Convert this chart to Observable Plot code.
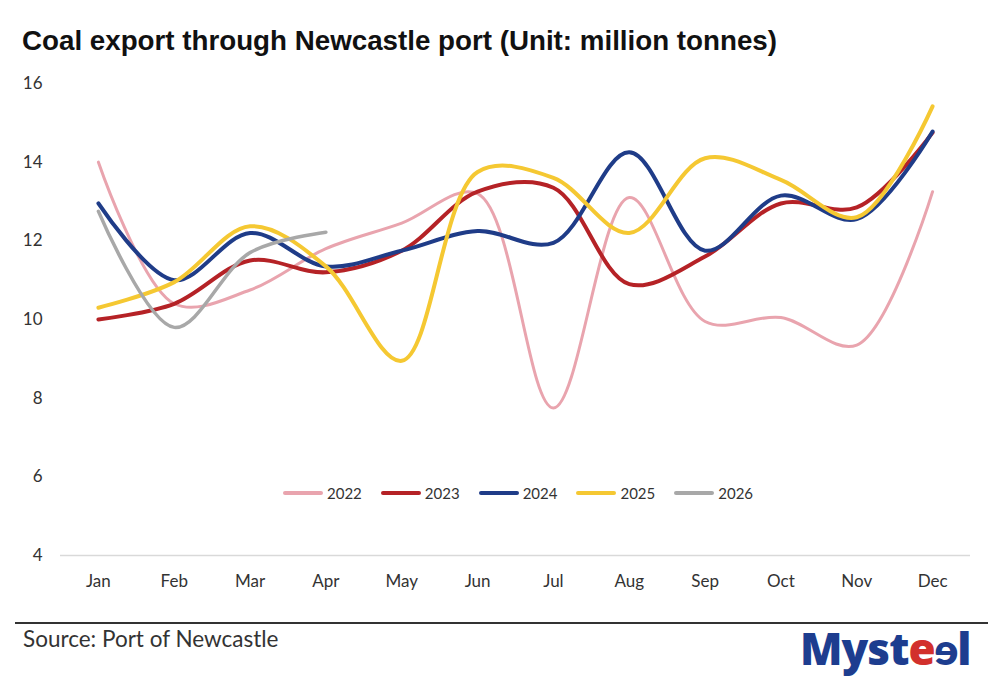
<!DOCTYPE html>
<html>
<head>
<meta charset="utf-8">
<script src="https://cdn.jsdelivr.net/npm/d3@7"></script>
<script src="https://cdn.jsdelivr.net/npm/@observablehq/plot@0.6"></script>
<style>
  html, body { margin: 0; padding: 0; background: #fff; }
  #wrap { position: relative; width: 1000px; height: 693px; overflow: hidden; font-family: Lato, "Open Sans", sans-serif; }
  #title { position: absolute; left: 0; top: 0; }
  #chart { position: absolute; left: 0; top: 65px; }
  #legend { position: absolute; left: 283px; top: 484px; display: flex; align-items: center; font-size: 15px; color: #333; }
  .item { display: flex; align-items: center; margin-right: 19px; }
  .sw { width: 40px; height: 4px; border-radius: 2px; margin-right: 4px; }
  #rule { position: absolute; left: 15px; top: 622px; width: 973px; height: 2px; background: #333; }
  #source { position: absolute; left: 23px; top: 625px; font-size: 22.5px; color: #333; }
  #logo { position: absolute; left: 800px; top: 618px; font-family: "Open Sans", Lato, sans-serif; font-weight: 800; font-size: 44px; letter-spacing: -1px; color: #1d3d8f; }
  #logo .r { color: #d2302c; }
</style>
</head>
<body>
<div id="wrap">
  <svg id="title" width="1000" height="65">
    <text x="22" y="50" textLength="755" lengthAdjust="spacingAndGlyphs"
      font-family="'Liberation Sans', Arial, sans-serif" font-weight="bold" font-size="27" fill="#111">Coal export through Newcastle port (Unit: million tonnes)</text>
  </svg>
  <div id="chart"></div>
  <div id="legend"></div>
  <div id="rule"></div>
  <div id="source">Source: Port of Newcastle</div>
  <div id="logo">Myst<span class="r">e</span>ɘl</div>
</div>
<script>
// Monthly coal exports through the port of Newcastle, million tonnes
const months = ["Jan", "Feb", "Mar", "Apr", "May", "Jun", "Jul", "Aug", "Sep", "Oct", "Nov", "Dec"];
const years = ["2022", "2023", "2024", "2025", "2026"];
const colors = ["#e9a4ae", "#b52226", "#1f3c88", "#f5c832", "#a8a8a8"];
const widths = [3, 4, 4, 4, 3.5];

const v2022 = [14.0, 10.4, 10.75, 11.8, 12.45, 13.2, 7.75, 13.1, 9.95, 10.05, 9.35, 13.25];
const v2023 = [10.0, 10.4, 11.5, 11.2, 11.75, 13.25, 13.35, 10.9, 11.6, 12.95, 12.85, 14.75];
const v2024 = [12.95, 11.0, 12.2, 11.35, 11.75, 12.25, 11.95, 14.25, 11.75, 13.15, 12.55, 14.78];
const v2025 = [10.3, 10.95, 12.37, 11.35, 8.95, 13.75, 13.6, 12.2, 14.1, 13.55, 12.6, 15.42];
const v2026 = [12.75, 9.8, 11.7, 12.22];
const tickValues = [4, 6, 8, 10, 12, 14, 16];

const series = [v2022, v2023, v2024, v2025, v2026];
const rows = series.flatMap((vals, i) =>
  vals.map((value, j) => ({ month: months[j], year: years[i], value })));

const chart = Plot.plot({
  width: 1000,
  height: 545,
  marginLeft: 60,
  marginRight: 30,
  marginTop: 18,
  marginBottom: 55,
  style: { fontFamily: "Lato, 'Open Sans', sans-serif", fontSize: "17px", color: "#333", background: "transparent" },
  x: { type: "point", domain: months, padding: 0.5, round: false, label: null, tickSize: 0, tickPadding: 19 },
  y: { domain: [4, 16], ticks: tickValues, label: null, tickSize: 0, tickPadding: 18 },
  color: { domain: years, range: colors },
  marks: [
    Plot.ruleY([4], { stroke: "#d9d9d9", strokeWidth: 1.5 }),
    ...years.map((yr, i) =>
      Plot.line(rows.filter(d => d.year === yr), {
        x: "month", y: "value", stroke: "year",
        strokeWidth: widths[i], curve: "catmull-rom", strokeLinecap: "round"
      }))
  ]
});
document.getElementById("chart").appendChild(chart);

// Line-swatch legend
const legend = document.getElementById("legend");
years.forEach((yr, i) => {
  const item = document.createElement("div");
  item.className = "item";
  item.innerHTML = `<div class="sw" style="background:${colors[i]}"></div><span>${yr}</span>`;
  legend.appendChild(item);
});
</script>
</body>
</html>
